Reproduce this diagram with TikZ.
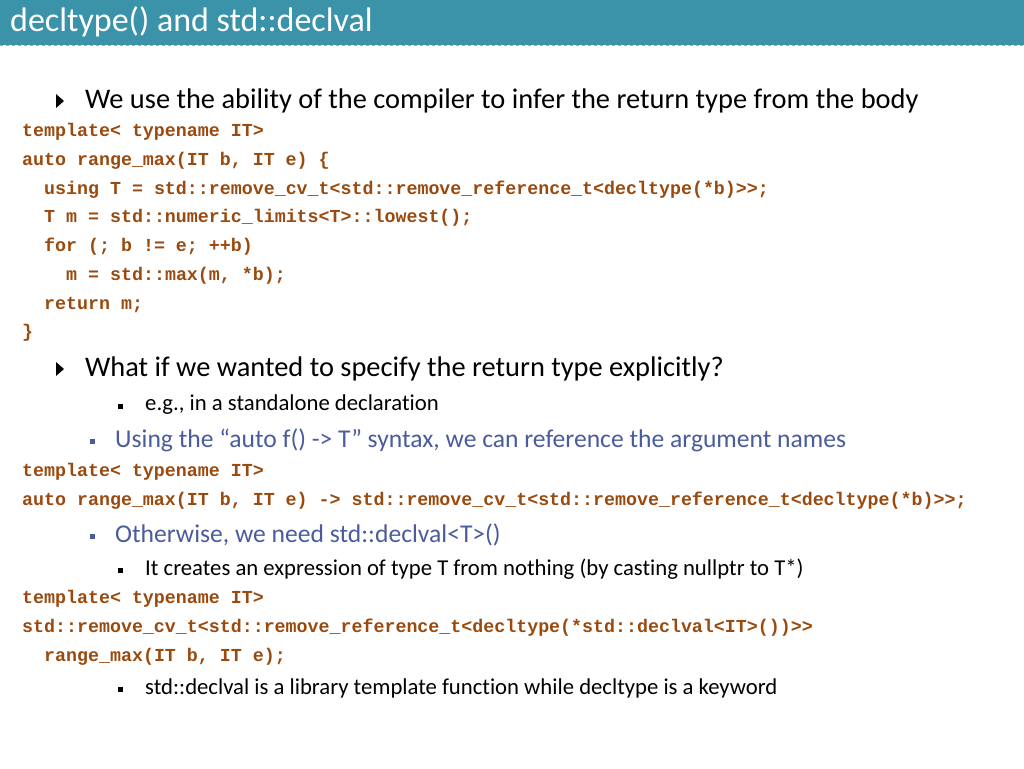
\documentclass[tikz,border=0pt]{standalone}
\usepackage{fontspec}
\setmainfont{Carlito}[Ligatures=NoCommon]
\newfontfamily\codefont{Liberation Mono}
\definecolor{teal}{HTML}{3B93AA}
\definecolor{codec}{HTML}{9A4A0E}
\definecolor{slate}{HTML}{4B5C9C}
\begin{document}
\begin{tikzpicture}[x=1pt,y=-1pt,
  every node/.style={anchor=west,inner sep=0pt},
  code/.style={font=\codefont\bfseries\fontsize{18.3}{20}\selectfont,text=codec},
  lvl1/.style={font=\fontsize{28.4}{32}\selectfont,text=black},
  lvl2/.style={font=\fontsize{25.6}{30}\selectfont,text=slate},
  lvl3/.style={font=\fontsize{22.7}{26}\selectfont,text=black},
  tri/.style={fill=black},
  sq/.style={fill=black,minimum size=5pt,inner sep=0pt,anchor=center}]
\useasboundingbox (0,0) rectangle (1024,768);
\fill[white] (0,0) rectangle (1024,768);
\fill[teal] (0,0) rectangle (1024,45);
\draw[gray!70,dashed,line width=0.6pt] (0,45) -- (1024,45);
\node[font=\fontsize{34}{38}\selectfont,text=white] (title) at (10,22) {decltype() and std::declval};
% bullet 1
\fill[tri] (56,94) -- (64,101) -- (56,108) -- cycle;
\node[lvl1] (b1) at (85,101) {We use the ability of the compiler to infer the return type from the body};
\node[code] (c1) at (22,132) {template< typename IT>};
\node[code] (c2) at (22,161) {auto range\_max(IT b, IT e) \{};
\node[code] (c3) at (44,190) {using T = std::remove\_cv\_t<std::remove\_reference\_t<decltype(*b)>>;};
\node[code] (c4) at (44,218) {T m = std::numeric\_limits<T>::lowest();};
\node[code] (c5) at (44,247) {for (; b != e; ++b)};
\node[code] (c6) at (66,276) {m = std::max(m, *b);};
\node[code] (c7) at (44,305) {return m;};
\node[code] (c8) at (22,333) {\}};
% bullet 2
\fill[tri] (56,362) -- (64,369) -- (56,376) -- cycle;
\node[lvl1] (b2) at (85,369) {What if we wanted to specify the return type explicitly?};
\node[sq] (s1) at (120,406) {};
\node[lvl3] (t1) at (145,405) {e.g., in a standalone declaration};
\node[sq,fill=slate] (s2) at (92,441) {};
\node[lvl2] (t2) at (115,440) {Using the “auto f() -> T” syntax, we can reference the argument names};
\node[code] (d1) at (22,472) {template< typename IT>};
\node[code] (d2) at (22,501) {auto range\_max(IT b, IT e) -> std::remove\_cv\_t<std::remove\_reference\_t<decltype(*b)>>;};
\node[sq,fill=slate] (s3) at (92,536) {};
\node[lvl2] (t3) at (115,535) {Otherwise, we need std::declval<T>()};
\node[sq] (s4) at (120,570) {};
\node[lvl3] (t4) at (145,569) {It creates an expression of type T from nothing (by casting nullptr to T*)};
\node[code] (e1) at (22,599) {template< typename IT>};
\node[code] (e2) at (22,628) {std::remove\_cv\_t<std::remove\_reference\_t<decltype(*std::declval<IT>())>>};
\node[code] (e3) at (44,657) {range\_max(IT b, IT e);};
\node[sq] (s5) at (120,689) {};
\node[lvl3] (t5) at (145,688) {std::declval is a library template function while decltype is a keyword};
\end{tikzpicture}
\end{document}
